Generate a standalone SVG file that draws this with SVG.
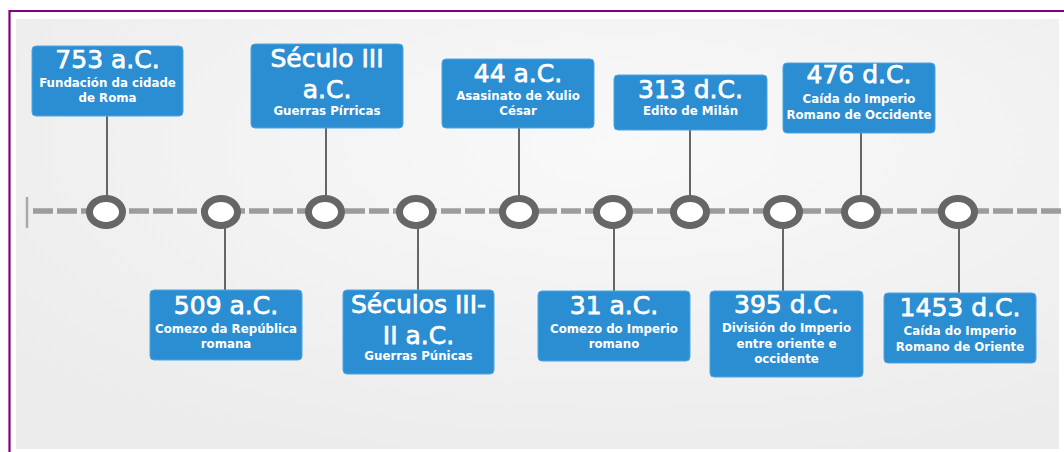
<svg xmlns="http://www.w3.org/2000/svg" width="1064" height="452" viewBox="0 0 1064 452">
<defs>
<radialGradient id="bg" cx="0.58" cy="0.3" r="0.75">
<stop offset="0" stop-color="#f9f9f9"/>
<stop offset="1" stop-color="#ececec"/>
</radialGradient>
<style>
.box{fill:#2b8dd2;stroke:#4fa6e2;stroke-width:1}
.t{font-family:"DejaVu Sans",Verdana,sans-serif;font-size:25px;fill:#fff;stroke:#fff;stroke-width:0.75;text-anchor:middle}
.s{font-family:"DejaVu Sans",Verdana,sans-serif;font-size:11.8px;font-weight:bold;fill:#fff;text-anchor:middle}
.c{stroke:#666;stroke-width:2;fill:none}
.dot{fill:#fff;stroke:#666;stroke-width:7}
</style>
</defs>
<rect x="0" y="0" width="1064" height="452" fill="#fff"/>
<rect x="16" y="19" width="1043" height="430" fill="url(#bg)"/>
<path d="M9.5 452 V11 H1064" fill="none" stroke="#800080" stroke-width="2.2"/>

<g id="timeline">
<line x1="27" y1="197" x2="27" y2="228" stroke="#a8a8a8" stroke-width="2.5"/>
<line x1="33" y1="211" x2="1064" y2="211" stroke="#9c9c9c" stroke-width="5.5" stroke-dasharray="20 4"/>
</g>

<g id="connectors">
<line class="c" x1="107" y1="116" x2="107" y2="196"/>
<line class="c" x1="225" y1="227" x2="225" y2="290"/>
<line class="c" x1="326" y1="128" x2="326" y2="196"/>
<line class="c" x1="418" y1="227" x2="418" y2="290"/>
<line class="c" x1="519" y1="128" x2="519" y2="196"/>
<line class="c" x1="614" y1="227" x2="614" y2="291"/>
<line class="c" x1="690" y1="130" x2="690" y2="196"/>
<line class="c" x1="783" y1="227" x2="783" y2="291"/>
<line class="c" x1="861" y1="133" x2="861" y2="196"/>
<line class="c" x1="959" y1="227" x2="959" y2="293"/>
</g>

<g id="points">
<ellipse class="dot" cx="106" cy="212" rx="16.5" ry="13.5"/>
<ellipse class="dot" cx="221" cy="212" rx="16.5" ry="13.5"/>
<ellipse class="dot" cx="325" cy="212" rx="16.5" ry="13.5"/>
<ellipse class="dot" cx="416" cy="212" rx="16.5" ry="13.5"/>
<ellipse class="dot" cx="519" cy="212" rx="16.5" ry="13.5"/>
<ellipse class="dot" cx="613" cy="212" rx="16.5" ry="13.5"/>
<ellipse class="dot" cx="690" cy="212" rx="16.5" ry="13.5"/>
<ellipse class="dot" cx="783" cy="212" rx="16.5" ry="13.5"/>
<ellipse class="dot" cx="861" cy="212" rx="16.5" ry="13.5"/>
<ellipse class="dot" cx="958" cy="212" rx="16.5" ry="13.5"/>
</g>

<g id="n753">
<rect class="box" x="32" y="46" width="151" height="70" rx="4"/>
<text class="t" x="107.5" y="68">753 a.C.</text>
<text class="s" x="107.5" y="87">Fundación da cidade</text>
<text class="s" x="107.5" y="102">de Roma</text>
</g>

<g id="n509">
<rect class="box" x="150" y="290" width="152" height="70" rx="4"/>
<text class="t" x="226" y="314">509 a.C.</text>
<text class="s" x="226" y="333">Comezo da República</text>
<text class="s" x="226" y="348">romana</text>
</g>

<g id="nIII">
<rect class="box" x="251" y="44" width="152" height="84" rx="4"/>
<text class="t" x="327" y="67">Século III</text>
<text class="t" x="327" y="98">a.C.</text>
<text class="s" x="327" y="115">Guerras Pírricas</text>
</g>

<g id="nIIIII">
<rect class="box" x="343" y="290" width="151" height="84" rx="4"/>
<text class="t" x="418.5" y="313">Séculos III-</text>
<text class="t" x="418.5" y="344">II a.C.</text>
<text class="s" x="418.5" y="360">Guerras Púnicas</text>
</g>

<g id="n44">
<rect class="box" x="442" y="59" width="152" height="69" rx="4"/>
<text class="t" x="518" y="82">44 a.C.</text>
<text class="s" x="518" y="100">Asasinato de Xulio</text>
<text class="s" x="518" y="115">César</text>
</g>

<g id="n31">
<rect class="box" x="538" y="291" width="152" height="70" rx="4"/>
<text class="t" x="614" y="314">31 a.C.</text>
<text class="s" x="614" y="333">Comezo do Imperio</text>
<text class="s" x="614" y="348">romano</text>
</g>

<g id="n313">
<rect class="box" x="614" y="75" width="153" height="55" rx="4"/>
<text class="t" x="690.5" y="98">313 d.C.</text>
<text class="s" x="690.5" y="115">Edito de Milán</text>
</g>

<g id="n395">
<rect class="box" x="710" y="291" width="153" height="86" rx="4"/>
<text class="t" x="786.5" y="313">395 d.C.</text>
<text class="s" x="786.5" y="332">División do Imperio</text>
<text class="s" x="786.5" y="348">entre oriente e</text>
<text class="s" x="786.5" y="363">occidente</text>
</g>

<g id="n476">
<rect class="box" x="783" y="63" width="152" height="70" rx="4"/>
<text class="t" x="859" y="83">476 d.C.</text>
<text class="s" x="859" y="103">Caída do Imperio</text>
<text class="s" x="859" y="119">Romano de Occidente</text>
</g>

<g id="n1453">
<rect class="box" x="884" y="293" width="152" height="70" rx="4"/>
<text class="t" x="960" y="316">1453 d.C.</text>
<text class="s" x="960" y="335">Caída do Imperio</text>
<text class="s" x="960" y="351">Romano de Oriente</text>
</g>
</svg>
